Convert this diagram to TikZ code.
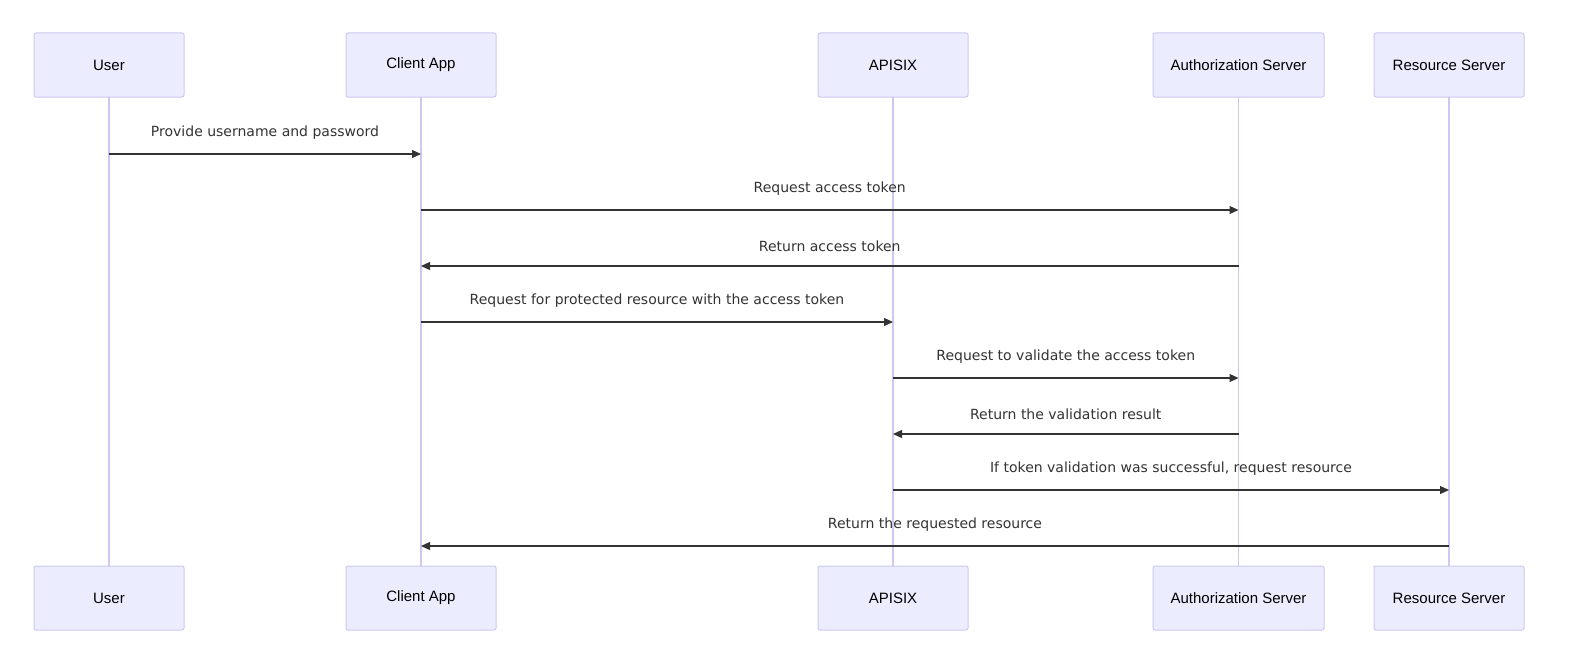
\documentclass[tikz,border=0pt]{standalone}
\usepackage{fontspec}
\setmainfont{DejaVu Sans}
\newfontfamily\boxfont{Liberation Sans}
\usetikzlibrary{arrows.meta,calc}
\definecolor{actfill}{HTML}{ECECFF}
\definecolor{actline}{HTML}{CDC8F0}
\definecolor{txt}{HTML}{333333}
\begin{document}
\begin{tikzpicture}[x=1pt,y=-1pt,
  actor/.style={draw=actline,fill=actfill,line width=1pt,rounded corners=2pt,minimum height=64pt,inner sep=0pt,font=\boxfont\fontsize{15}{18}\selectfont,text=black},
  life/.style={draw=actline,line width=1.5pt},
  msg/.style={draw=txt,line width=1.2pt,-{Triangle[length=9pt,width=8pt]}},
  lbl/.style={font=\fontsize{14}{17}\selectfont,text=txt,above=14pt,inner sep=0pt}]
\useasboundingbox (0,0) rectangle (1576,669);
\foreach \n/\x/\w/\t in {u/109/150/User,c/421/150/Client App,a/893/150/APISIX,s/1238.5/171/Authorization Server,r/1449/150/Resource Server}{
  \draw[life] (\x,97) -- (\x,566);
  \node[actor,minimum width=\w pt] (\n top) at (\x,65) {\t};
  \node[actor,minimum width=\w pt] (\n bot) at (\x,598) {\t};
}
\foreach \y/\f/\g/\t in {154/u/c/Provide username and password,
  210/c/s/Request access token,
  266/s/c/Return access token,
  322/c/a/Request for protected resource with the access token,
  378/a/s/Request to validate the access token,
  434/s/a/Return the validation result,
  490/a/r/{If token validation was successful, request resource},
  546/r/c/Return the requested resource}{
  \coordinate (p) at (\f top |- 0,\y);
  \coordinate (q) at (\g top |- 0,\y);
  \draw[msg] (p) -- (q);
  \node[lbl] at ($(p)!0.5!(q)$) {\t};
}
\end{tikzpicture}
\end{document}
